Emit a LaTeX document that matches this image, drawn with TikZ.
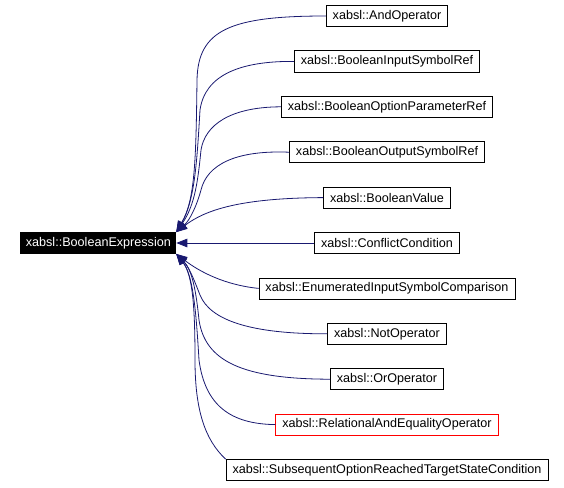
\documentclass[tikz,border=0pt]{standalone}
\usepackage{fontspec}
\setmainfont{Liberation Sans}
\usetikzlibrary{arrows.meta, positioning}
\definecolor{edgeblue}{RGB}{25,25,112}
\tikzstyle{classbox} = [draw, rectangle, line width=0.8pt,
   minimum height=21pt, inner xsep=6.5pt, inner ysep=0pt,
   font=\fontsize{12.6pt}{14pt}\selectfont]
\tikzstyle{inherit} = [draw=edgeblue, line width=0.8pt,
   -{Triangle[length=11pt,width=8.5pt,fill=edgeblue]}]

\begin{document}
\begin{tikzpicture}[
  x=1pt, y=-1pt,
  node distance=23.6pt,
  ]
  \useasboundingbox (0,0) rectangle (564,487);
  \node[classbox] (andop) at (387,16) {xabsl::AndOperator};
  \node[classbox,below = of andop] (inref) {xabsl::BooleanInputSymbolRef};
  \node[classbox,below = of inref] (optref) {xabsl::BooleanOptionParameterRef};
  \node[classbox,below = of optref] (outref) {xabsl::BooleanOutputSymbolRef};
  \node[classbox,below = of outref] (boolval) {xabsl::BooleanValue};
  \node[classbox,below = of boolval] (conflict) {xabsl::ConflictCondition};
  \node[classbox,below = of conflict] (enumcmp) {xabsl::EnumeratedInputSymbolComparison};
  \node[classbox,below = of enumcmp] (notop) {xabsl::NotOperator};
  \node[classbox,below = of notop] (orop) {xabsl::OrOperator};
  \node[classbox,draw=red,below = of orop] (relop) {xabsl::RelationalAndEqualityOperator};
  \node[classbox,below = of relop] (subseq) {xabsl::SubsequentOptionReachedTargetStateCondition};
  \node[classbox,fill=black,text=white,inner xsep=5pt,left = 138pt of conflict] (bexpr) {xabsl::BooleanExpression};
  % edges from above
  \draw[inherit] (andop.west) .. controls (230,16) and (198,30) .. (197,80)
    .. controls (196,160) and (195,200) .. (bexpr.north east);
  \draw[inherit] (inref.west) .. controls (240,61) and (205,75) .. (200,110)
    .. controls (197,160) and (195,200) .. (bexpr.north east);
  \draw[inherit] (optref.west) .. controls (230,107) and (205,125) .. (201,150)
    .. controls (198,180) and (195,205) .. (bexpr.north east);
  \draw[inherit] (outref.west) .. controls (235,150) and (207,165) .. (201,190)
    .. controls (197,205) and (190,220) .. (bexpr.north east);
  \draw[inherit] (boolval.west) .. controls (240,198) and (205,210) .. (bexpr.north east);
  \draw[inherit] (conflict.west) -- (bexpr.east);
  % edges from below
  \draw[inherit] (enumcmp.west) .. controls (225,285) and (200,272) .. (bexpr.south east);
  \draw[inherit] (notop.west) .. controls (250,334) and (210,320) .. (200,295)
    .. controls (196,285) and (190,268) .. (bexpr.south east);
  \draw[inherit] (orop.west) .. controls (240,379) and (205,360) .. (199,320)
    .. controls (196,290) and (192,270) .. (bexpr.south east);
  \draw[inherit] (relop.west) .. controls (230,424) and (205,405) .. (199,360)
    .. controls (196,310) and (193,275) .. (bexpr.south east);
  \draw[inherit] (subseq.north west) .. controls (205,440) and (195,410) .. (195,360)
    .. controls (195,310) and (193,275) .. (bexpr.south east);
\end{tikzpicture}
\end{document}
